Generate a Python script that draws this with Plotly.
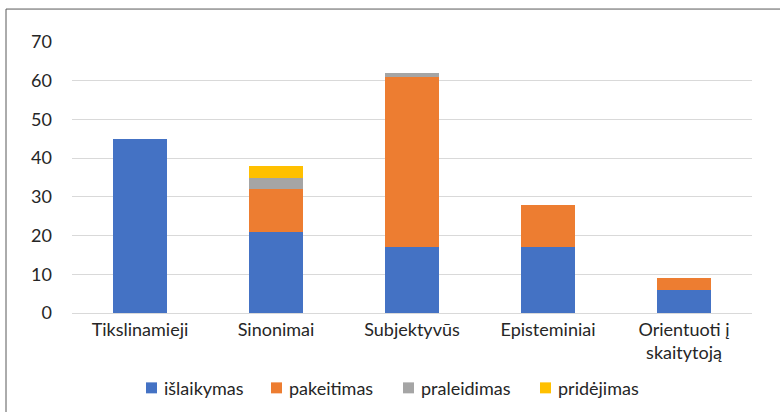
import plotly.graph_objects as go

categories = ["Tikslinamieji", "Sinonimai", "Subjektyvūs", "Episteminiai", "Orientuoti į<br>skaitytoją"]
islaikymas = [45, 21, 17, 17, 6]
pakeitimas = [0, 11, 44, 11, 3]
praleidimas = [0, 3, 1, 0, 0]
pridejimas = [0, 3, 0, 0, 0]

series = [
    ("išlaikymas", islaikymas, "#4472C4"),
    ("pakeitimas", pakeitimas, "#ED7D31"),
    ("praleidimas", praleidimas, "#A5A5A5"),
    ("pridėjimas", pridejimas, "#FFC000"),
]

FONT = "Lato, Open Sans, sans-serif"
TXT = "#262626"
W, H = 780, 412
L, R, T, B = 72, 28, 42, 98.5
pw, ph = W - L - R, H - T - B


def px2x(px):
    return (px - L) / pw


def py2y(py):
    return (T + ph - py) / ph


fig = go.Figure()
for name, vals, color in series:
    fig.add_trace(go.Bar(x=categories, y=vals, name=name, marker_color=color,
                         marker_line_width=0, showlegend=False))

# custom legend (swatch left edges in px)
legend_x = [146, 271, 403, 540]
sw = 11
sy0, sy1 = 383, 394
shapes = [dict(type="rect", xref="paper", yref="paper",
               x0=px2x(6), x1=px2x(W + 20), y0=py2y(H + 20), y1=py2y(9),
               line=dict(color="#595959", width=1), fillcolor="rgba(0,0,0,0)", layer="below")]
annotations = []
for (name, vals, color), lx in zip(series, legend_x):
    shapes.append(dict(type="rect", xref="paper", yref="paper",
                       x0=px2x(lx), x1=px2x(lx + sw), y0=py2y(sy1), y1=py2y(sy0),
                       line=dict(width=0), fillcolor=color))
    annotations.append(dict(xref="paper", yref="paper", x=px2x(lx + sw + 5), y=py2y(388.5),
                            xanchor="left", yanchor="middle", showarrow=False, text=name,
                            font=dict(family=FONT, size=18, color=TXT)))

fig.update_layout(
    width=W, height=H,
    barmode="stack", bargap=0.6,
    margin=dict(l=L, r=R, t=T, b=B),
    paper_bgcolor="white", plot_bgcolor="white",
    font=dict(family=FONT, size=18, color=TXT),
    showlegend=False,
    xaxis=dict(showgrid=False, showline=True, linecolor="#d9d9d9", linewidth=1,
               ticks="", tickfont=dict(size=18, color=TXT)),
    yaxis=dict(range=[0, 70], dtick=10, showgrid=True, gridcolor="#d9d9d9", gridwidth=1,
               zeroline=False, ticks="", tickfont=dict(size=18, color=TXT),
               ticklabelstandoff=19),
    shapes=shapes,
    annotations=annotations,
)

fig.write_html("out.html", config={"displayModeBar": False},
               post_script="document.body.style.margin='0';")
